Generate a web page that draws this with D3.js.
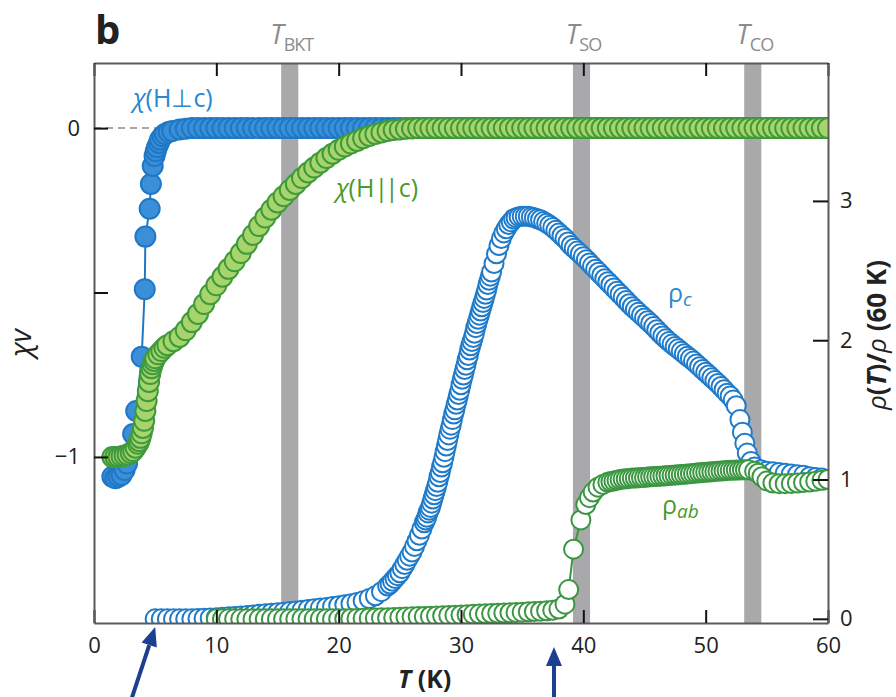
<!DOCTYPE html>
<html>
<head>
<meta charset="utf-8">
<script src="https://cdn.jsdelivr.net/npm/d3@7"></script>
<style>
  body { margin: 0; background: #fff; }
  svg { font-family: "Open Sans", "Noto Sans", sans-serif; }
</style>
</head>
<body>
<div id="chart"></div>
<script>
// ---- data: [T (K), value] ----

// chi_v for H perpendicular to c (left axis)
var chiPerpData = [[1.5,-1.06],[1.75,-1.065],[2.0,-1.06],[2.25,-1.055],[2.5,-1.04],[2.7,-1.02],[2.9,-0.99],
  [3.2,-0.93],[3.45,-0.86],[3.9,-0.695],[4.15,-0.49],[4.2,-0.33],[4.55,-0.245],[4.65,-0.17],[4.8,-0.115],
  [4.95,-0.085],[5.05,-0.07],[5.15,-0.058],[5.3,-0.045],[5.4,-0.035],[5.6,-0.025],[5.8,-0.018],[6.1,-0.012],
  [6.4,-0.009],[7.0,-0.004],[7.5,-0.002],[8,0],[8.5,0],[9,0],[9.5,0],[10,0],[10.5,0],[11,0],[11.5,0],[12,0],
  [12.5,0],[13,0],[13.5,0],[14,0],[14.5,0],[15,0],[15.5,0],[16,0],[16.5,0],[17,0],[17.5,0],[18,0],[18.5,0],
  [19,0],[19.5,0],[20,0],[20.5,0],[21,0],[21.5,0],[22,0],[22.5,0],[23,0],[23.5,0],[24,0],[24.5,0],[25,0],
  [25.5,0],[26,0],[26.5,0],[27,0],[27.5,0],[28,0],[28.5,0],[29,0],[29.5,0],[30,0],[30.5,0],[31,0],[31.5,0],
  [32,0],[32.5,0],[33,0],[33.5,0],[34,0],[34.5,0],[35,0],[35.5,0],[36,0],[36.5,0],[37,0],[37.5,0],[38,0],
  [38.5,0],[39,0],[39.5,0],[40,0],[40.5,0],[41,0],[41.5,0],[42,0],[42.5,0],[43,0],[43.5,0],[44,0],[44.5,0],
  [45,0],[45.5,0],[46,0],[46.5,0],[47,0],[47.5,0],[48,0],[48.5,0],[49,0],[49.5,0],[50,0],[50.5,0],[51,0],
  [51.5,0],[52,0],[52.5,0],[53,0],[53.5,0],[54,0],[54.5,0],[55,0],[55.5,0],[56,0],[56.5,0],[57,0],[57.5,0],
  [58,0],[58.5,0],[59,0],[59.5,0],[60,0]];

// chi_v for H parallel to c (left axis)
var chiParData = [[1.5,-1.0],[1.75,-1.0],[2.0,-1.0],[2.25,-0.998],[2.5,-0.996],[2.75,-0.993],[3.0,-0.988],
  [3.2,-0.982],[3.4,-0.972],[3.6,-0.96],[3.7,-0.952],[3.8,-0.942],[3.9,-0.928],[4.0,-0.912],[4.1,-0.89],
  [4.2,-0.86],[4.3,-0.83],[4.4,-0.80],[4.5,-0.772],[4.6,-0.748],[4.7,-0.73],[4.8,-0.718],[4.9,-0.708],
  [5.0,-0.70],[5.25,-0.688],[5.5,-0.678],[5.75,-0.668],[6.0,-0.66],[6.5,-0.648],[7.0,-0.635],[7.5,-0.615],
  [8.0,-0.59],[8.5,-0.565],[9.0,-0.535],[9.5,-0.505],[10,-0.478],[10.5,-0.452],[11,-0.428],[11.5,-0.405],
  [12,-0.38],[12.5,-0.352],[13,-0.325],[13.5,-0.298],[14,-0.272],[14.5,-0.248],[15,-0.226],[15.5,-0.207],
  [16,-0.188],[16.5,-0.17],[17,-0.152],[17.5,-0.135],[18,-0.12],[18.5,-0.105],[19,-0.091],[19.5,-0.078],
  [20,-0.066],[20.5,-0.056],[21,-0.047],[21.5,-0.039],[22,-0.031],[22.5,-0.024],[23,-0.018],[23.5,-0.013],
  [24,-0.009],[24.5,-0.006],[25,-0.004],[25.5,-0.002],[26,-0.001],[26.5,0],[27,0],[27.5,0],[28,0],[28.5,0],
  [29,0],[29.5,0],[30,0],[30.5,0],[31,0],[31.5,0],[32,0],[32.5,0],[33,0],[33.5,0],[34,0],[34.5,0],[35,0],
  [35.5,0],[36,0],[36.5,0],[37,0],[37.5,0],[38,0],[38.5,0],[39,0],[39.5,0],[40,0],[40.5,0],[41,0],[41.5,0],
  [42,0],[42.5,0],[43,0],[43.5,0],[44,0],[44.5,0],[45,0],[45.5,0],[46,0],[46.5,0],[47,0],[47.5,0],[48,0],
  [48.5,0],[49,0],[49.5,0],[50,0],[50.5,0],[51,0],[51.5,0],[52,0],[52.5,0],[53,0],[53.5,0],[54,0],[54.5,0],
  [55,0],[55.5,0],[56,0],[56.5,0],[57,0],[57.5,0],[58,0],[58.5,0],[59,0],[59.5,0],[60,0]];

// rho_c / rho(60 K) (right axis)
var rhoCData = [[5.0,0],[5.5,0],[6.0,0],[6.5,0],[7.0,0],[7.5,0],[8.0,0],[8.5,0.002],[9.0,0.004],[9.5,0.006],
  [10.0,0.008],[10.5,0.011],[11.0,0.014],[11.5,0.017],[12.0,0.02],[12.5,0.024],[13.0,0.028],[13.5,0.032],
  [14.0,0.036],[14.5,0.04],[15.0,0.044],[15.5,0.048],[16.0,0.052],[16.5,0.057],[17.0,0.062],[17.5,0.067],
  [18.0,0.072],[18.5,0.077],[19.0,0.082],[19.5,0.088],[20.0,0.094],[20.5,0.101],[21.0,0.109],[21.5,0.118],
  [22.0,0.13],[22.5,0.145],[23.0,0.165],[23.5,0.195],[24.0,0.235],[24.2,0.25],[24.4,0.27],[24.6,0.29],
  [24.8,0.31],[25.0,0.33],[25.2,0.36],[25.4,0.39],[25.6,0.42],[25.8,0.45],[26.0,0.48],[26.2,0.52],[26.4,0.56],
  [26.6,0.60],[26.8,0.645],[27.0,0.69],[27.1,0.71],[27.2,0.73],[27.3,0.76],[27.4,0.78],[27.5,0.80],[27.6,0.83],
  [27.7,0.86],[27.8,0.89],[27.9,0.92],[28.0,0.95],[28.1,0.98],[28.2,1.02],[28.3,1.05],[28.4,1.09],[28.5,1.12],
  [28.6,1.16],[28.7,1.20],[28.8,1.24],[28.9,1.28],[29.0,1.32],[29.1,1.36],[29.2,1.39],[29.3,1.43],[29.4,1.47],
  [29.5,1.50],[29.6,1.54],[29.7,1.57],[29.8,1.61],[29.9,1.64],[30.0,1.68],[30.1,1.72],[30.2,1.75],[30.3,1.79],
  [30.4,1.82],[30.5,1.86],[30.6,1.89],[30.7,1.93],[30.8,1.96],[30.9,1.99],[31.0,2.02],[31.1,2.05],[31.2,2.09],
  [31.3,2.12],[31.4,2.15],[31.5,2.18],[31.6,2.21],[31.7,2.24],[31.8,2.27],[31.9,2.30],[32.0,2.33],[32.1,2.36],
  [32.2,2.40],[32.3,2.43],[32.4,2.46],[32.5,2.49],[32.7,2.55],[32.9,2.62],[33.1,2.68],[33.3,2.73],[33.5,2.77],
  [33.7,2.80],[33.9,2.83],[34.1,2.85],[34.3,2.87],[34.5,2.88],[34.75,2.887],[35.0,2.89],[35.25,2.89],
  [35.5,2.89],[35.75,2.885],[36.0,2.88],[36.25,2.872],[36.5,2.865],[36.75,2.853],[37.0,2.84],[37.25,2.826],
  [37.5,2.81],[37.75,2.79],[38.0,2.77],[38.25,2.75],[38.5,2.73],[38.75,2.705],[39.0,2.68],[39.25,2.66],
  [39.5,2.64],[39.75,2.62],[40.0,2.60],[40.25,2.578],[40.5,2.555],[40.75,2.532],[41.0,2.51],[41.25,2.488],
  [41.5,2.465],[41.75,2.442],[42.0,2.42],[42.25,2.398],[42.5,2.375],[42.75,2.352],[43.0,2.33],[43.25,2.308],
  [43.5,2.285],[43.75,2.262],[44.0,2.24],[44.25,2.22],[44.5,2.20],[44.75,2.18],[45.0,2.16],[45.25,2.14],
  [45.5,2.12],[45.75,2.098],[46.0,2.075],[46.25,2.052],[46.5,2.03],[46.75,2.01],[47.0,1.99],[47.25,1.972],
  [47.5,1.955],[47.75,1.938],[48.0,1.92],[48.25,1.902],[48.5,1.885],[48.75,1.868],[49.0,1.85],[49.25,1.83],
  [49.5,1.81],[49.75,1.79],[50.0,1.77],[50.25,1.75],[50.5,1.73],[50.75,1.71],[51.0,1.69],[51.25,1.668],
  [51.5,1.645],[51.75,1.62],[52.0,1.60],[52.25,1.57],[52.5,1.53],[52.8,1.43],[53.0,1.34],[53.2,1.26],
  [53.4,1.19],[53.7,1.13],[54.0,1.09],[54.5,1.07],[55.0,1.06],[55.5,1.055],[56.0,1.05],[56.5,1.045],
  [57.0,1.04],[57.5,1.035],[58.0,1.03],[58.5,1.02],[59.0,1.015],[59.5,1.01],[60.0,1.0]];

// rho_ab / rho(60 K) (right axis)
var rhoAbData = [[10,0],[10.5,0],[11,0],[11.5,0],[12,0],[12.5,0],[13,0],[13.5,0],[14,0],[14.5,0],[15,0],
  [15.5,0],[16,0],[16.5,0],[17,0],[17.5,0],[18,0],[18.5,0],[19,0],[19.5,0],[20,0],[20.5,0.001],[21,0.002],
  [21.5,0.003],[22,0.004],[22.5,0.005],[23,0.006],[23.5,0.007],[24,0.008],[24.5,0.01],[25,0.011],[25.5,0.013],
  [26,0.014],[26.5,0.016],[27,0.017],[27.5,0.019],[28,0.02],[28.5,0.022],[29,0.024],[29.5,0.026],[30,0.028],
  [30.5,0.03],[31,0.032],[31.5,0.034],[32,0.036],[32.5,0.038],[33,0.04],[33.5,0.042],[34,0.044],[34.5,0.046],
  [35,0.048],[35.5,0.05],[36,0.052],[36.5,0.055],[37,0.058],[37.5,0.062],[38,0.07],[38.5,0.105],[38.8,0.21],
  [39.2,0.50],[39.8,0.71],[40.2,0.82],[40.5,0.87],[40.8,0.91],[41.2,0.945],[41.6,0.965],[42,0.98],
  [42.25,0.985],[42.5,0.99],[42.75,0.995],[43,1.0],[43.25,1.003],[43.5,1.005],[43.75,1.008],[44,1.01],
  [44.25,1.011],[44.5,1.012],[44.75,1.014],[45,1.015],[45.25,1.018],[45.5,1.02],[45.75,1.021],[46,1.022],
  [46.25,1.024],[46.5,1.025],[46.75,1.027],[47,1.028],[47.25,1.03],[47.5,1.032],[47.75,1.034],[48,1.036],
  [48.25,1.038],[48.5,1.04],[48.75,1.042],[49,1.044],[49.25,1.046],[49.5,1.048],[49.75,1.05],[50,1.052],
  [50.25,1.054],[50.5,1.056],[50.75,1.058],[51,1.06],[51.25,1.062],[51.5,1.063],[51.75,1.065],[52,1.066],
  [52.25,1.067],[52.5,1.068],[52.75,1.069],[53,1.07],[53.25,1.07],[53.5,1.07],[54,1.06],[54.3,1.045],
  [54.6,1.02],[55,0.99],[55.5,0.975],[56,0.97],[56.5,0.97],[57,0.972],[57.5,0.975],[58,0.978],[58.5,0.982],
  [59,0.988],[59.5,0.994],[60,1.0]];

// transition temperatures (grey bands) and their subscripts
var transitionT = [16.0, 39.85, 53.85];
var transitionNames = ["BKT", "SO", "CO"];

// tick values
var xTicks = [0, 10, 20, 30, 40, 50, 60];
var chiTicks = [0, -0.5, -1];
var rhoTicks = [0, 1, 2, 3];

// arrows under the T axis (temperatures they point at)
var arrowT = [5.0, 37.6];

// ---- layout ----
var svgWidth = 896;
var svgHeight = 697;
var margin = { top: 63, right: 68, bottom: 74, left: 94 };
var width = svgWidth - margin.left - margin.right;
var height = svgHeight - margin.top - margin.bottom;

var blue = "#1f7bca";
var green = "#3a9640";

var svg = d3.select("#chart").append("svg")
  .attr("width", svgWidth)
  .attr("height", svgHeight);

svg.append("defs").append("clipPath").attr("id", "clip")
  .append("rect").attr("width", width).attr("height", height);

var chartGroup = svg.append("g")
  .attr("transform", `translate(${margin.left}, ${margin.top})`);

// scales
var xScale = d3.scaleLinear().domain([0, 60]).range([0, width]);
var yChi = d3.scaleLinear().domain([-1.505, 0.198]).range([height, 0]);
var yRho = d3.scaleLinear().domain([-0.03, 3.99]).range([height, 0]);

// grey bands at the transitions
var bandW = 1.4;
chartGroup.selectAll(".band")
  .data(transitionT)
  .enter()
  .append("rect")
  .attr("x", d => xScale(d - bandW / 2))
  .attr("width", xScale(bandW) - xScale(0))
  .attr("y", 0)
  .attr("height", height)
  .attr("fill", "#a9a9ac");

// dashed zero line for chi
chartGroup.append("line")
  .attr("x1", xScale(0)).attr("x2", xScale(5.2))
  .attr("y1", yChi(0)).attr("y2", yChi(0))
  .attr("stroke", "#a8a8a8")
  .attr("stroke-width", 2)
  .attr("stroke-dasharray", "7,5");

// draw one series: connecting line plus markers
function drawSeries(data, yScale, r, fill, stroke) {
  var g = chartGroup.append("g").attr("clip-path", "url(#clip)");
  g.append("path")
    .datum(data)
    .attr("fill", "none")
    .attr("stroke", stroke)
    .attr("stroke-width", 2)
    .attr("d", d3.line().x(d => xScale(d[0])).y(d => yScale(d[1])));
  g.selectAll("circle")
    .data(data)
    .enter()
    .append("circle")
    .attr("cx", d => xScale(d[0]))
    .attr("cy", d => yScale(d[1]))
    .attr("r", r)
    .attr("fill", fill)
    .attr("stroke", stroke)
    .attr("stroke-width", 2);
}

drawSeries(rhoCData, yRho, 9.5, "#ffffff", blue);
drawSeries(rhoAbData, yRho, 9.5, "#ffffff", green);
drawSeries(chiPerpData, yChi, 10, "#3a8fd8", "#1f78c6");
drawSeries(chiParData, yChi, 10, "#a8d46c", "#3f9a3c");

// axes (all ticks pointing inward)
function styleAxis(g) {
  g.select(".domain").attr("stroke", "#5a5a5a").attr("stroke-width", 2);
  g.selectAll(".tick line").attr("stroke", "#111").attr("stroke-width", 2);
  g.selectAll(".tick text")
    .attr("fill", "#222")
    .style("font-size", "22px")
    .style("font-family", "'Open Sans', 'Noto Sans', sans-serif");
}

var bottomAxis = d3.axisBottom(xScale).tickValues(xTicks)
  .tickSizeInner(-13).tickSizeOuter(0).tickPadding(14).tickFormat(d3.format("d"));
chartGroup.append("g")
  .attr("transform", `translate(0, ${height})`)
  .call(bottomAxis)
  .call(styleAxis);

var topAxis = d3.axisTop(xScale).tickValues(xTicks)
  .tickSizeInner(-13).tickSizeOuter(0).tickFormat("");
chartGroup.append("g")
  .call(topAxis)
  .call(styleAxis);

var leftAxis = d3.axisLeft(yChi).tickValues(chiTicks)
  .tickSizeInner(-14).tickSizeOuter(0).tickPadding(14)
  .tickFormat(d => d === 0 ? "0" : (d === -1 ? "\u22121" : ""));
chartGroup.append("g")
  .call(leftAxis)
  .call(styleAxis);

var rightAxis = d3.axisRight(yRho).tickValues(rhoTicks)
  .tickSizeInner(-15).tickSizeOuter(0).tickPadding(12).tickFormat(d3.format("d"));
chartGroup.append("g")
  .attr("transform", `translate(${width}, 0)`)
  .call(rightAxis)
  .call(styleAxis);

// transition labels above the frame
var tLabels = svg.selectAll(".tlabel")
  .data(transitionT)
  .enter()
  .append("text")
  .attr("x", d => margin.left + xScale(d) + 2)
  .attr("y", 44)
  .attr("text-anchor", "middle")
  .attr("fill", "#8c8c8c")
  .style("font-size", "27px");
tLabels.append("tspan").style("font-style", "italic").text("T");
tLabels.append("tspan")
  .attr("dy", 7)
  .style("font-size", "18px")
  .style("letter-spacing", "-1px")
  .text((d, i) => transitionNames[i]);

// panel letter
svg.append("text")
  .attr("x", 95).attr("y", 44)
  .attr("fill", "#222")
  .style("font-size", "40px")
  .style("font-weight", "bold")
  .text("b");

// series labels
var lab1 = svg.append("text").attr("x", 133).attr("y", 107)
  .attr("fill", "#2a87d0").style("font-size", "25px");
lab1.append("tspan").style("font-style", "italic").text("\u03c7");
lab1.append("tspan").text("(H\u22a5c)");

var lab2 = svg.append("text").attr("x", 336).attr("y", 197)
  .attr("fill", "#4a9a2c").style("font-size", "25px");
lab2.append("tspan").style("font-style", "italic").text("\u03c7");
lab2.append("tspan").text("(H");
lab2.append("tspan").style("letter-spacing", "-3px").text("||");
lab2.append("tspan").attr("dx", 3).text("c)");

var lab3 = svg.append("text").attr("x", 668).attr("y", 302)
  .attr("fill", "#2a87d0").style("font-size", "25px");
lab3.append("tspan").text("\u03c1");
lab3.append("tspan").attr("dy", 4).style("font-size", "19px").style("font-style", "italic").text("c");

var lab4 = svg.append("text").attr("x", 662).attr("y", 514)
  .attr("fill", "#4a9a2c").style("font-size", "25px");
lab4.append("tspan").text("\u03c1");
lab4.append("tspan").attr("dy", 4).style("font-size", "19px").style("font-style", "italic").text("ab");

// axis titles
var xTitle = svg.append("text")
  .attr("x", 398).attr("y", 688)
  .attr("fill", "#222")
  .style("font-size", "25px")
  .style("font-weight", "bold");
xTitle.append("tspan").style("font-style", "italic").text("T");
xTitle.append("tspan").text(" (K)");

var yTitle = svg.append("text")
  .attr("transform", "translate(31, 343) rotate(-90)")
  .attr("text-anchor", "middle")
  .attr("fill", "#222")
  .style("font-size", "29px");
yTitle.append("tspan").style("font-style", "italic").text("\u03c7v");

var y2Title = svg.append("text")
  .attr("transform", "translate(886, 335) rotate(-90)")
  .attr("text-anchor", "middle")
  .attr("fill", "#222")
  .style("font-size", "26px")
  .style("font-weight", "bold");
y2Title.append("tspan").style("font-style", "italic").style("font-weight", "normal").text("\u03c1");
y2Title.append("tspan").text("(");
y2Title.append("tspan").style("font-style", "italic").text("T");
y2Title.append("tspan").text(")/");
y2Title.append("tspan").style("font-style", "italic").style("font-weight", "normal").text("\u03c1");
y2Title.append("tspan").text(" (60 K)");

// arrows pointing at the T axis
var navy = "#1d3f8f";
function drawArrow(x1, y1, x2, y2) {
  var ang = Math.atan2(y2 - y1, x2 - x1);
  var headLen = 19, headW = 8;
  var bx = x2 - headLen * Math.cos(ang);
  var by = y2 - headLen * Math.sin(ang);
  svg.append("line")
    .attr("x1", x1).attr("y1", y1).attr("x2", bx).attr("y2", by)
    .attr("stroke", navy).attr("stroke-width", 4);
  svg.append("path")
    .attr("d", `M${x2},${y2}L${bx + headW * Math.sin(ang)},${by - headW * Math.cos(ang)}` +
      `L${bx - headW * Math.sin(ang)},${by + headW * Math.cos(ang)}Z`)
    .attr("fill", navy);
}
drawArrow(margin.left + xScale(arrowT[0]) - 24, 700, margin.left + xScale(arrowT[0]), 627);
drawArrow(margin.left + xScale(arrowT[1]), 700, margin.left + xScale(arrowT[1]), 647);
</script>
</body>
</html>
